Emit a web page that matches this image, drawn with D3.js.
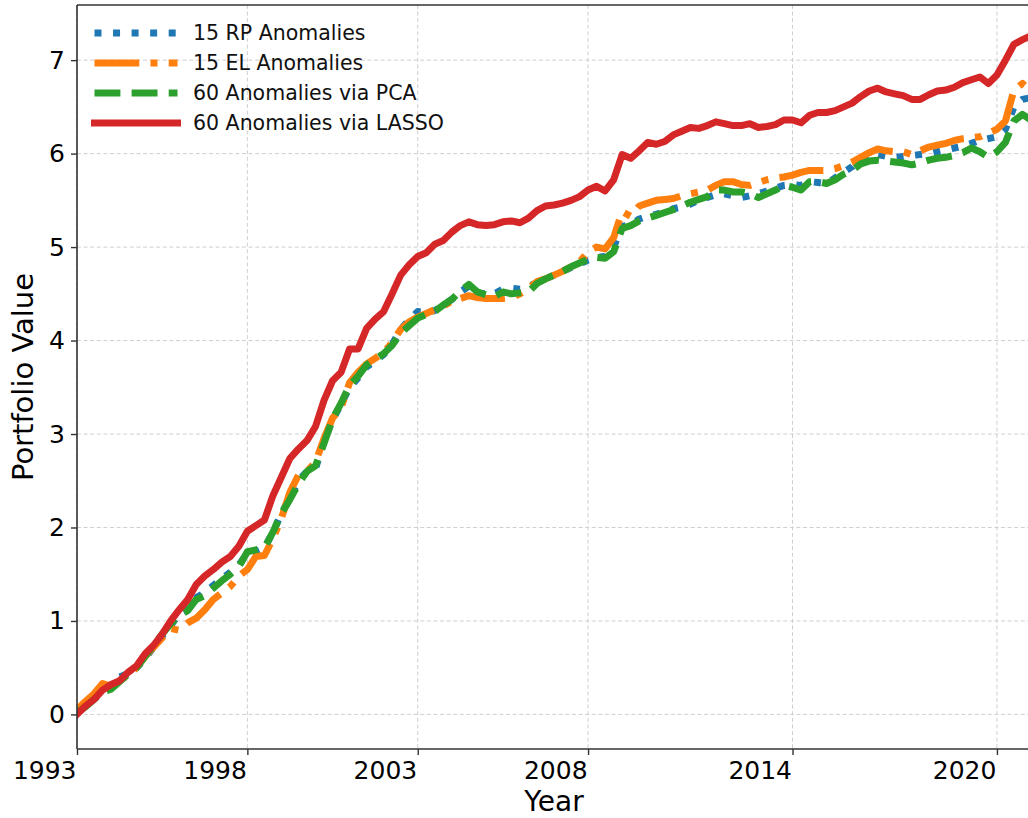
<!DOCTYPE html>
<html>
<head>
<meta charset="utf-8">
<script src="https://cdn.jsdelivr.net/npm/d3@7"></script>
<style>
  body { margin: 0; background: #fff; }
  svg { display: block; font-family: "DejaVu Sans", sans-serif; }
</style>
</head>
<body>
<script>
'use strict';

// quarterly observations, 1993.00 .. 2021.00
const startYear = 1993;
const stepYear = 0.25;

const rpValues = [
  0.03, 0.10, 0.17, 0.26, 0.30, 0.40, 0.44, 0.50, 0.60, 0.72, 0.84, 0.95,
  1.08, 1.13, 1.25, 1.30, 1.38, 1.45, 1.52, 1.60, 1.72, 1.74, 1.78, 1.95,
  2.15, 2.32, 2.50, 2.60, 2.63, 2.92, 3.15, 3.32, 3.50, 3.60, 3.72, 3.78,
  3.85, 3.96, 4.12, 4.22, 4.31, 4.30, 4.32, 4.38, 4.44, 4.52, 4.58, 4.51,
  4.50, 4.50, 4.55, 4.56, 4.55, 4.58, 4.62, 4.66, 4.70, 4.74, 4.78, 4.82,
  4.86, 4.89, 4.90, 5.00, 5.22, 5.24, 5.30, 5.33, 5.35, 5.38, 5.41, 5.43,
  5.46, 5.50, 5.53, 5.56, 5.57, 5.55, 5.53, 5.55, 5.57, 5.60, 5.63, 5.66,
  5.67, 5.66, 5.70, 5.69, 5.68, 5.74, 5.80, 5.86, 5.95, 6.00, 5.99, 5.97,
  5.96, 5.97, 5.98, 5.99, 6.00, 6.02, 6.04, 6.06, 6.08, 6.11, 6.14, 6.16,
  6.18, 6.26, 6.50, 6.58, 6.60
];

const elValues = [
  0.05, 0.14, 0.22, 0.33, 0.30, 0.36, 0.42, 0.50, 0.62, 0.72, 0.82, 0.92,
  0.90, 0.98, 1.03, 1.12, 1.23, 1.30, 1.37, 1.48, 1.55, 1.69, 1.70, 1.88,
  2.10, 2.38, 2.56, 2.60, 2.70, 2.95, 3.17, 3.28, 3.55, 3.66, 3.75, 3.81,
  3.87, 3.98, 4.12, 4.20, 4.25, 4.29, 4.33, 4.37, 4.42, 4.45, 4.48, 4.46,
  4.45, 4.45, 4.45, 4.46, 4.50, 4.56, 4.63, 4.66, 4.70, 4.74, 4.79, 4.84,
  4.95, 5.00, 4.98, 5.10, 5.38, 5.33, 5.44, 5.47, 5.50, 5.51, 5.52, 5.55,
  5.57, 5.59, 5.61, 5.66, 5.70, 5.70, 5.67, 5.66, 5.69, 5.72, 5.74, 5.75,
  5.77, 5.80, 5.82, 5.82, 5.82, 5.84, 5.87, 5.91, 5.96, 6.01, 6.05, 6.03,
  6.02, 6.02, 5.99, 6.03, 6.07, 6.09, 6.11, 6.14, 6.16, 6.17, 6.18, 6.22,
  6.26, 6.35, 6.68, 6.75, 6.66
];

const pcaValues = [
  0.02, 0.08, 0.16, 0.24, 0.27, 0.35, 0.43, 0.50, 0.62, 0.74, 0.86, 0.97,
  1.06, 1.11, 1.23, 1.27, 1.35, 1.43, 1.50, 1.58, 1.74, 1.76, 1.78, 1.95,
  2.15, 2.30, 2.47, 2.60, 2.66, 2.90, 3.16, 3.33, 3.52, 3.62, 3.74, 3.80,
  3.86, 3.95, 4.08, 4.16, 4.24, 4.28, 4.31, 4.38, 4.44, 4.53, 4.60, 4.52,
  4.49, 4.47, 4.52, 4.50, 4.51, 4.52, 4.61, 4.66, 4.70, 4.74, 4.79, 4.83,
  4.87, 4.89, 4.88, 4.95, 5.20, 5.23, 5.28, 5.31, 5.34, 5.37, 5.40, 5.44,
  5.48, 5.51, 5.54, 5.61, 5.61, 5.59, 5.59, 5.57, 5.53, 5.57, 5.61, 5.66,
  5.64, 5.61, 5.70, 5.70, 5.68, 5.72, 5.78, 5.82, 5.89, 5.92, 5.93, 5.92,
  5.91, 5.90, 5.88, 5.90, 5.93, 5.95, 5.96, 5.98, 6.01, 6.06, 6.02, 5.96,
  6.02, 6.12, 6.35, 6.42, 6.36
];

const lassoValues = [
  0.00, 0.09, 0.16, 0.26, 0.32, 0.36, 0.45, 0.52, 0.65, 0.74, 0.86, 1.00,
  1.12, 1.23, 1.39, 1.48, 1.55, 1.63, 1.69, 1.80, 1.96, 2.02, 2.08, 2.34,
  2.54, 2.74, 2.84, 2.93, 3.08, 3.36, 3.57, 3.66, 3.91, 3.91, 4.13, 4.23,
  4.31, 4.50, 4.70, 4.81, 4.90, 4.94, 5.03, 5.07, 5.16, 5.23, 5.27, 5.24,
  5.23, 5.24, 5.27, 5.28, 5.26, 5.31, 5.39, 5.44, 5.45, 5.47, 5.50, 5.54,
  5.61, 5.65, 5.60, 5.72, 5.99, 5.95, 6.03, 6.12, 6.10, 6.13, 6.20, 6.24,
  6.28, 6.27, 6.30, 6.34, 6.32, 6.30, 6.30, 6.32, 6.28, 6.29, 6.31, 6.36,
  6.36, 6.33, 6.41, 6.44, 6.44, 6.46, 6.50, 6.54, 6.61, 6.67, 6.70, 6.66,
  6.64, 6.62, 6.58, 6.58, 6.63, 6.67, 6.68, 6.71, 6.76, 6.79, 6.82, 6.75,
  6.84, 7.00, 7.17, 7.22, 7.26
];

const seriesNames = ['15 RP Anomalies', '15 EL Anomalies', '60 Anomalies via PCA', '60 Anomalies via LASSO'];
const seriesColors = ['#1f77b4', '#ff7f0e', '#2ca02c', '#d62728'];
const xTickYears = [1993, 1998, 2003, 2008, 2014, 2020];
const yTickValues = [0, 1, 2, 3, 4, 5, 6, 7];

(function () {
  const width = 1028, height = 818;
  const left = 77, right = 1031, top = 5, bottom = 749;
  const lw = 7;
  // matplotlib style dash patterns scaled by line width
  const dashes = [
    [1 * lw, 1.65 * lw],
    [6.4 * lw, 1.6 * lw, 1 * lw, 1.6 * lw],
    [3.7 * lw, 1.6 * lw],
    null
  ];

  const svg = d3.select('body').append('svg')
    .attr('width', width)
    .attr('height', height);

  const xScale = d3.scaleLinear().domain([1993, 2021]).range([left, right]);
  const yScale = d3.scaleLinear().domain([-0.37, 7.59]).range([bottom, top]);

  svg.append('defs').append('clipPath').attr('id', 'plotClip')
    .append('rect')
    .attr('x', left).attr('y', top)
    .attr('width', right - left).attr('height', bottom - top);

  // grid
  const grid = svg.append('g').attr('stroke', '#cfcfcf').attr('stroke-width', 1)
    .attr('stroke-dasharray', '4,2.6').attr('fill', 'none');
  grid.selectAll('.vg').data(xTickYears).enter().append('line')
    .attr('x1', (d) => xScale(d)).attr('x2', (d) => xScale(d))
    .attr('y1', top).attr('y2', bottom);
  grid.selectAll('.hg').data(yTickValues).enter().append('line')
    .attr('x1', left).attr('x2', right)
    .attr('y1', (d) => yScale(d)).attr('y2', (d) => yScale(d));

  // lines
  const allValues = [rpValues, elValues, pcaValues, lassoValues];
  const line = d3.line()
    .x((d, i) => xScale(startYear + i * stepYear))
    .y((d) => yScale(d));

  const plot = svg.append('g').attr('clip-path', 'url(#plotClip)');
  allValues.forEach((vals, k) => {
    plot.append('path')
      .datum(vals)
      .attr('fill', 'none')
      .attr('stroke', seriesColors[k])
      .attr('stroke-width', lw)
      .attr('stroke-linejoin', 'round')
      .attr('stroke-linecap', dashes[k] ? 'butt' : 'square')
      .attr('stroke-dasharray', dashes[k] ? dashes[k].join(',') : null)
      .attr('d', line);
  });

  // axes
  const xAxis = d3.axisBottom(xScale).tickValues(xTickYears)
    .tickFormat(d3.format('d')).tickSize(6).tickPadding(6);
  const gx = svg.append('g').attr('transform', 'translate(0,' + bottom + ')').call(xAxis);
  gx.selectAll('text').attr('text-anchor', 'end').attr('dx', '-1');

  const yAxis = d3.axisLeft(yScale).tickValues(yTickValues).tickSize(6).tickPadding(6);
  const gy = svg.append('g').attr('transform', 'translate(' + left + ',0)').call(yAxis);

  [gx, gy].forEach((g) => {
    g.select('.domain').remove();
    g.selectAll('line').attr('stroke', '#333').attr('stroke-width', 1.4);
    g.selectAll('text').attr('fill', '#000').style('font-size', '25px')
      .style('font-family', '"DejaVu Sans", sans-serif');
  });

  // spines: left, bottom, top (right lies outside the picture)
  const spine = svg.append('g').attr('stroke', '#333').attr('stroke-width', 1.6);
  spine.append('line').attr('x1', left).attr('x2', left).attr('y1', top).attr('y2', bottom);
  spine.append('line').attr('x1', left).attr('x2', right).attr('y1', bottom).attr('y2', bottom);
  spine.append('line').attr('x1', left).attr('x2', right).attr('y1', top).attr('y2', top);
  spine.append('line').attr('x1', right).attr('x2', right).attr('y1', top).attr('y2', bottom);

  // axis labels
  svg.append('text')
    .attr('x', (left + right) / 2)
    .attr('y', 811)
    .attr('text-anchor', 'middle')
    .style('font-size', '28px')
    .attr('fill', '#000')
    .text('Year');

  svg.append('text')
    .attr('transform', 'translate(33,' + ((top + bottom) / 2) + ')rotate(-90)')
    .attr('text-anchor', 'middle')
    .style('font-size', '29px')
    .attr('fill', '#000')
    .text('Portfolio Value');

  // legend
  const legend = svg.append('g');
  seriesNames.forEach((name, k) => {
    const yBase = 39.5 + k * 30;
    legend.append('line')
      .attr('x1', 94.5).attr('x2', 177.5)
      .attr('y1', yBase - 6.5).attr('y2', yBase - 6.5)
      .attr('stroke', seriesColors[k])
      .attr('stroke-width', lw)
      .attr('stroke-linecap', dashes[k] ? 'butt' : 'square')
      .attr('stroke-dasharray', dashes[k] ? dashes[k].join(',') : null);
    legend.append('text')
      .attr('x', 193).attr('y', yBase)
      .style('font-size', '20.5px')
      .attr('fill', '#111')
      .text(name);
  });
})();
</script>
</body>
</html>
